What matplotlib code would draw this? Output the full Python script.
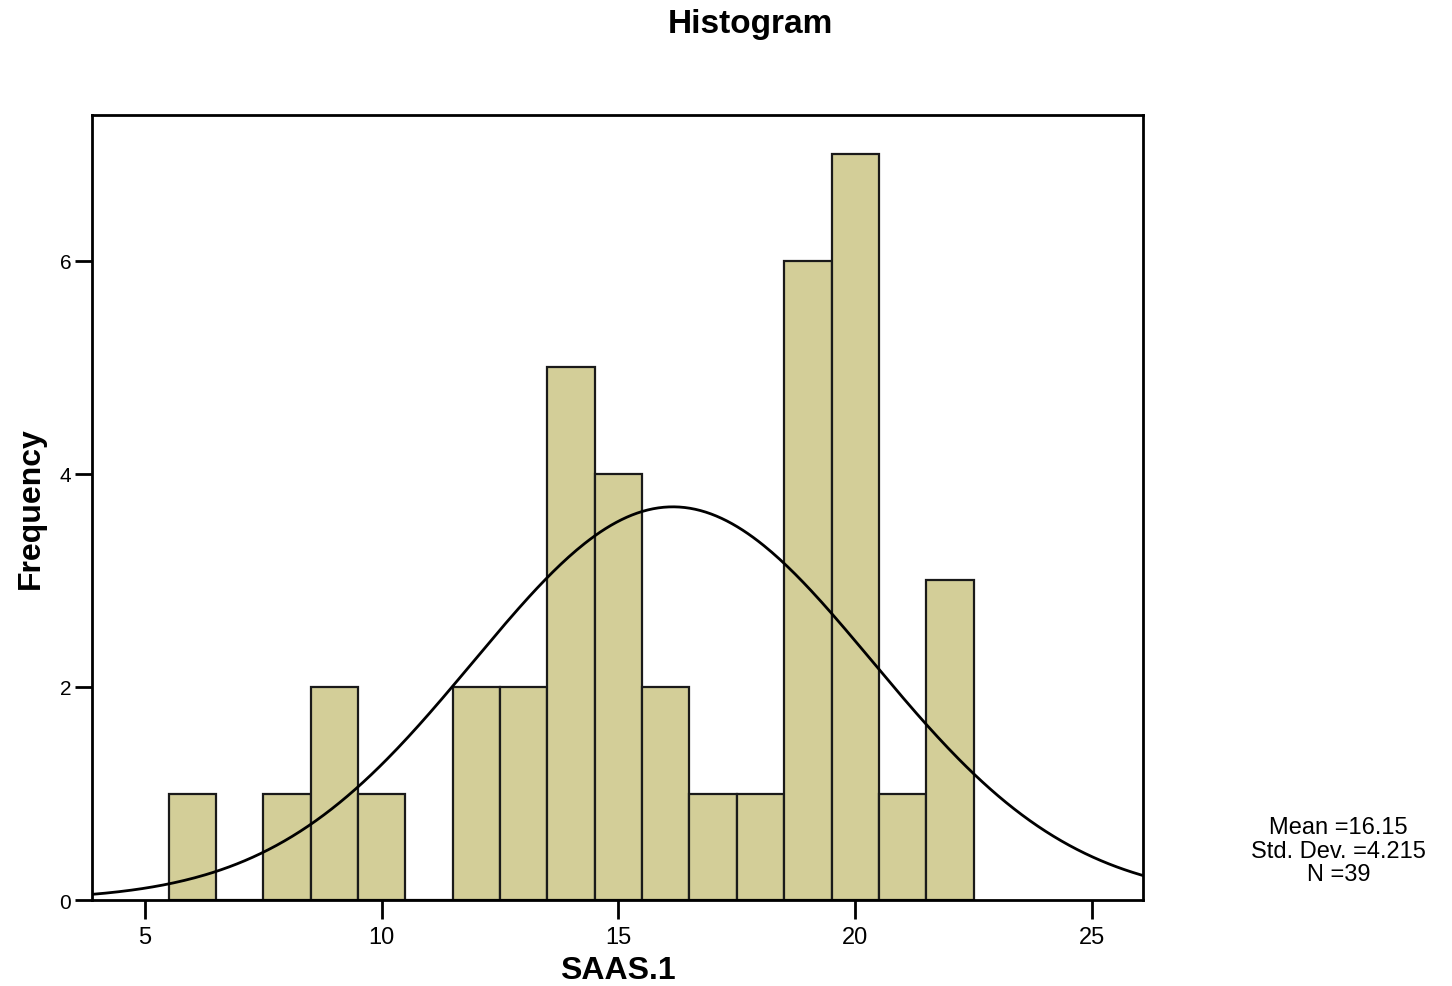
import numpy as np
import matplotlib
matplotlib.use("Agg")
import matplotlib.pyplot as plt

plt.rcParams['font.family'] = ['Liberation Sans', 'DejaVu Sans']

bin_centers = [6, 7, 8, 9, 10, 11, 12, 13, 14, 15, 16, 17, 18, 19, 20, 21, 22]
counts = [1, 0, 1, 2, 1, 0, 2, 2, 5, 4, 2, 1, 1, 6, 7, 1, 3]
mean_val = 16.15
std_val = 4.215
n_val = 39
bin_width = 1.0
x_ticks = [5, 10, 15, 20, 25]
y_ticks = [0, 2, 4, 6]

fig = plt.figure(figsize=(14.52, 9.87), dpi=100)
ax = fig.add_axes([0.0634, 0.0871, 0.7238, 0.7954])

ax.bar(bin_centers, counts, width=bin_width, color='#D3CE98',
       edgecolor='#1a1a1a', linewidth=1.6, zorder=2)

xs = np.linspace(3.88, 26.08, 400)
ys = n_val * bin_width / (std_val * np.sqrt(2 * np.pi)) * np.exp(-0.5 * ((xs - mean_val) / std_val) ** 2)
ax.plot(xs, ys, color='black', linewidth=2.0, zorder=3)

ax.set_xlim(3.88, 26.08)
ax.set_ylim(0, 7.37)
ax.set_xticks(x_ticks)
ax.set_yticks(y_ticks)
ax.tick_params(axis='x', direction='out', length=14, width=2, labelsize=17, pad=5)
ax.tick_params(axis='y', direction='out', length=12, width=2, labelsize=15, pad=3)
for s in ax.spines.values():
    s.set_linewidth(2)
ax.set_xlabel('SAAS.1', fontsize=23, fontweight='bold', labelpad=5)
ax.set_ylabel('Frequency', fontsize=23, fontweight='bold', labelpad=10)
fig.text(0.5165, 0.9747, 'Histogram', ha='center', va='center', fontsize=24, fontweight='bold')

fig.text(0.922, 0.137, 'Mean =16.15\nStd. Dev. =4.215\nN =39', ha='center', va='center',
         fontsize=17, linespacing=1.1)

fig.savefig('out.png', dpi=100)
